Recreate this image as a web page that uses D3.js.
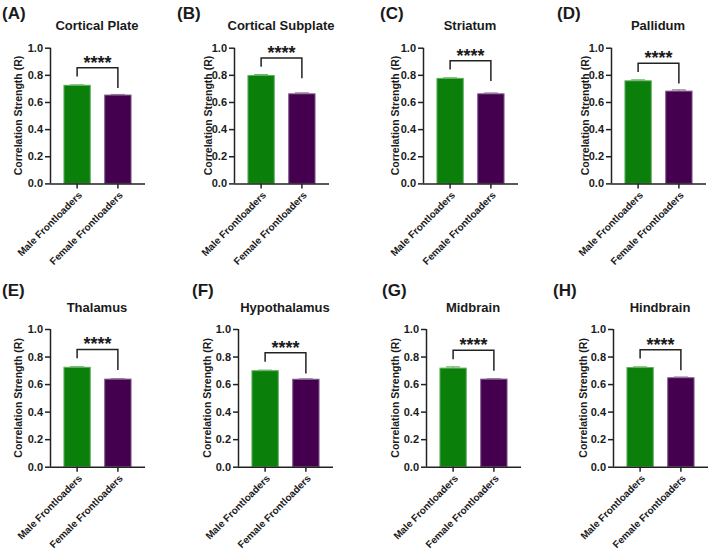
<!DOCTYPE html>
<html><head><meta charset="utf-8">
<script src="https://cdn.jsdelivr.net/npm/d3@7"></script>
<style>
html,body{margin:0;padding:0;background:#fff;}
text{font-family:"Liberation Sans",Arial,sans-serif;font-weight:bold;fill:#1a1a1a;}
</style></head>
<body>
<svg id="chart" width="709" height="554"></svg>
<script>
const panelLetters = ["(A)","(B)","(C)","(D)","(E)","(F)","(G)","(H)"];
const regions = ["Cortical Plate","Cortical Subplate","Striatum","Pallidum","Thalamus","Hypothalamus","Midbrain","Hindbrain"];
const groups = ["Male Frontloaders","Female Frontloaders"];
const maleMean = [0.723,0.795,0.774,0.756,0.722,0.697,0.716,0.720];
const maleSEM = [0.003,0.007,0.004,0.007,0.004,0.004,0.009,0.005];
const femaleMean = [0.651,0.660,0.660,0.680,0.636,0.635,0.636,0.646];
const femaleSEM = [0.004,0.007,0.006,0.009,0.003,0.003,0.003,0.005];
const yTicks = [0,0.2,0.4,0.6,0.8,1.0];
const sigLabel = "****";
const yLabel = "Correlation Strength (R)";

// layout (pixels)
const axisX = [50,234,423,611,50,238,426,613];
const letterX = [2,177,380,557,2,192,382,553];
const yLabelOff = [-32,-26,-28,-26,-32,-31,-31,-30];
const rowTop = [47.7,329], rowBottom = [183.4,466.7], letterY = [13,290];

const fill = ["#0a7f0a","#44004f"];
const edge = ["#5fae5f","#7d5a86"];
const err = ["#6cb56c","#8f7a95"];

const svg = d3.select("#chart");

regions.forEach((name,i)=>{
  const row = i<4?0:1;
  const ax = axisX[i];
  const y = d3.scaleLinear().domain([0,1]).range([rowBottom[row],rowTop[row]]);
  const x = d3.scaleBand().domain(groups).range([ax,ax+95]).paddingInner(0.33).paddingOuter(0.33);
  const g = svg.append("g");
  const means=[maleMean[i],femaleMean[i]], sems=[maleSEM[i],femaleSEM[i]];

  // bars
  groups.forEach((gr,k)=>{
    g.append("rect").attr("x",x(gr)+0.5).attr("width",x.bandwidth()-1)
      .attr("y",y(means[k])).attr("height",y(0)-y(means[k]))
      .attr("fill",fill[k]).attr("stroke",edge[k]).attr("stroke-width",1);
    const cx = x(gr)+x.bandwidth()/2;
    const hi = y(means[k]+sems[k]), lo=y(means[k]);
    g.append("line").attr("x1",cx).attr("x2",cx).attr("y1",hi).attr("y2",lo).attr("stroke",err[k]).attr("stroke-width",1.2);
    g.append("line").attr("x1",cx-7).attr("x2",cx+7).attr("y1",hi).attr("y2",hi).attr("stroke",err[k]).attr("stroke-width",1.2);
  });

  // axes
  const yAxis = d3.axisLeft(y).tickValues(yTicks).tickFormat(d3.format(".1f")).tickSize(5).tickPadding(2);
  const ya = g.append("g").attr("transform",`translate(${ax},0)`).call(yAxis);
  ya.selectAll("text").style("font-size","11px");
  const xAxis = d3.axisBottom(x).tickSize(5).tickFormat("");
  const xa = g.append("g").attr("transform",`translate(0,${y(0)})`).call(xAxis);
  [ya,xa].forEach(a=>{a.select(".domain").attr("stroke","#222").attr("stroke-width",1.5);
    a.selectAll(".tick line").attr("stroke","#222").attr("stroke-width",1.5);});
  xa.select(".domain").attr("d",`M${ax},0.5H${ax+95}`);
  ya.select(".domain").attr("d",`M0.5,${y(1)}V${y(0)}`);

  // x labels
  groups.forEach(gr=>{
    const cx = x(gr)+x.bandwidth()/2;
    g.append("text").attr("transform",`translate(${cx+3},${y(0)+10}) rotate(-45)`)
      .attr("text-anchor","end").attr("dy","0.35em").style("font-size","10px").text(gr);
  });

  // y label
  const ym = (y(0)+y(1))/2;
  g.append("text").attr("transform",`translate(${ax+yLabelOff[i]},${ym}) rotate(-90)`)
    .attr("text-anchor","middle").attr("dy","0.35em").style("font-size","10.5px").text(yLabel);

  // title
  g.append("text").attr("x",ax+47).attr("y",y(1)-22).attr("text-anchor","middle")
    .attr("dy","0.35em").style("font-size","13px").text(name);

  // letter
  svg.append("text").attr("x",letterX[i]).attr("y",letterY[row]).attr("dy","0.35em")
    .style("font-size","17px").text(panelLetters[i]);

  // significance bracket
  const top = Math.max(...means)+0.13;
  const c0 = x(groups[0])+x.bandwidth()/2, c1 = x(groups[1])+x.bandwidth()/2;
  g.append("path").attr("d",`M${c0},${y(top-0.065)}V${y(top)}H${c1}V${y(top-0.15)}`)
    .attr("fill","none").attr("stroke","#222").attr("stroke-width",1.5);
  g.append("text").attr("x",(c0+c1)/2).attr("y",y(top+0.065)+10).attr("text-anchor","middle")
    .style("font-size","18px").text(sigLabel);
});
</script>
</body></html>
